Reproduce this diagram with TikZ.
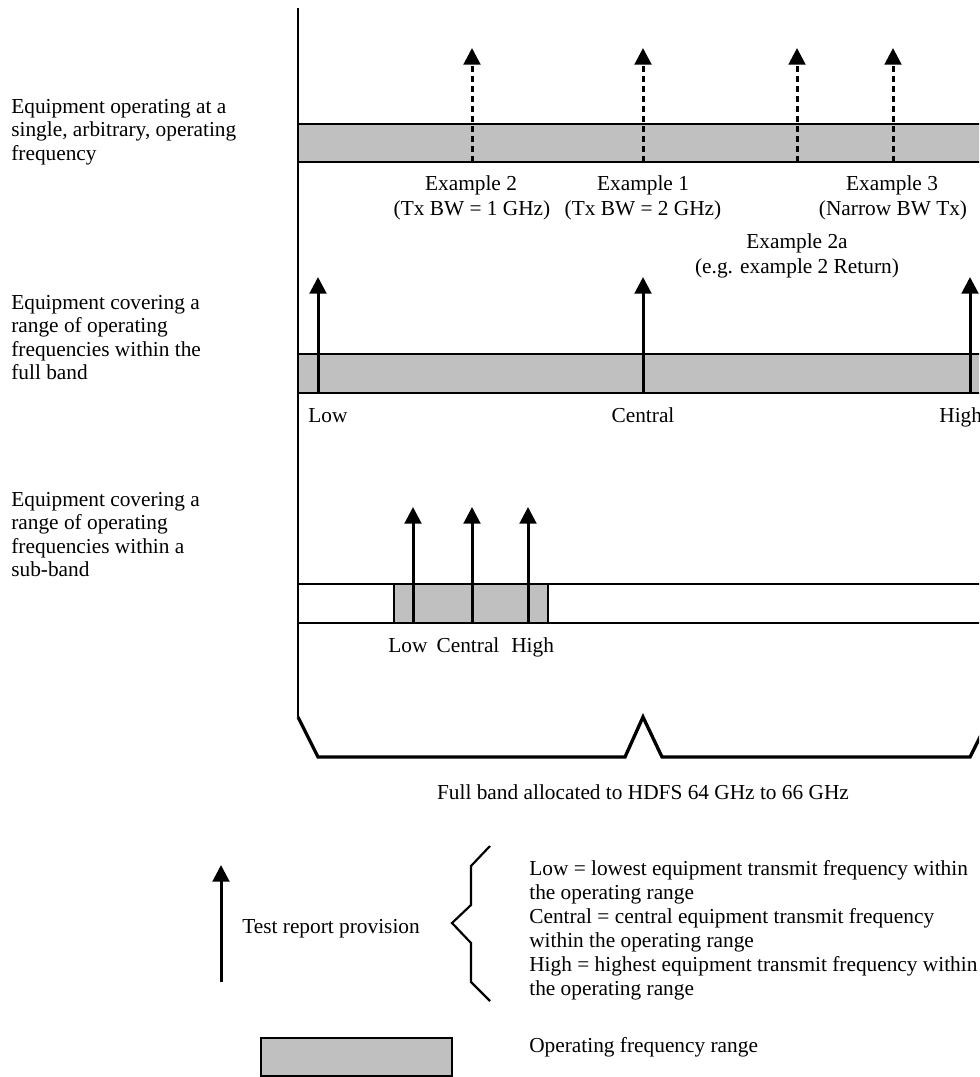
\documentclass[tikz,border=0pt]{standalone}
\usepackage{fontspec}
\setmainfont{Liberation Serif}
\usetikzlibrary{arrows.meta}
\definecolor{bandgray}{HTML}{C0C0C0}
\begin{document}
\begin{tikzpicture}[x=0.6pt,y=-0.6pt,
  every node/.style={inner sep=0pt, font=\fontsize{12.8}{14}\selectfont},
  legendtxt/.style={anchor=north west, align=left, font=\fontsize{12.8}{14.4}\selectfont},
  sidetxt/.style={anchor=north west, align=left},
  band/.style={draw, line width=1.2pt, fill=bandgray},
  strip/.style={draw, line width=1.2pt, fill=white},
  tx/.style={line width=1.8pt, -{Triangle[length=10pt,width=10pt]}},
  dtx/.style={tx, dash pattern=on 3.6pt off 2.4pt},
  lbl/.style={anchor=base},
  lblw/.style={anchor=base west},
  axis/.style={line width=1.2pt},
  bracket/.style={line width=2pt, line join=miter},
  brace/.style={line width=1.3pt}]
\clip (0,0) rectangle (979,1077);

% side descriptions
\node[sidetxt] (d1) at (11,98.9) {Equipment operating at a\\single, arbitrary, operating\\frequency};
\node[sidetxt] (d2) at (11,295.2) {Equipment covering a\\range of operating\\frequencies within the\\full band};
\node[sidetxt] (d3) at (11,491.9) {Equipment covering a\\range of operating\\frequencies within a\\sub-band};

% axis and bracket
\coordinate (axtop) at (298,8);
\coordinate (axbot) at (298,717);
\draw[axis] (axtop) -- (axbot);
\coordinate (br1) at (318,757);
\coordinate (br2) at (625,757);
\coordinate (brpk) at (643,717);
\coordinate (br3) at (662,757);
\coordinate (br4) at (970,757);
\coordinate (br5) at (990,717);
\draw[bracket] (axbot) -- (br1) -- (br2) -- (brpk) -- (br3) -- (br4) -- (br5);
\node[lbl] (fullband) at (643,799) {Full band allocated to HDFS 64 GHz to 66 GHz};

% band 1
\draw[band] (298,124) rectangle (985,162);
\foreach \x/\n in {472/a,643/b,797/c,893/d}{
  \coordinate (s1\n) at (\x,162);
  \coordinate (e1\n) at (\x,48);
  \draw[dtx] (s1\n) -- (e1\n);
}
\node[lbl] (ex2) at (471,191) {Example 2};
\node[lbl] (ex2b) at (472,215) {(Tx BW = 1 GHz)};
\node[lbl] (ex1) at (643,191) {Example 1};
\node[lbl] (ex1b) at (643,215) {(Tx BW = 2 GHz)};
\node[lbl] (ex3) at (892,191) {Example 3};
\node[lbl] (ex3b) at (893,215) {(Narrow BW Tx)};
\node[lbl] (ex2a) at (797,248) {Example 2a};
\node[lbl] (ex2ab) at (797,273) {(e.g. example 2 Return)};

% band 2
\draw[band] (298,354) rectangle (985,393);
\foreach \x/\n in {318/a,643/b,970/c}{
  \coordinate (s2\n) at (\x,393);
  \coordinate (e2\n) at (\x,277);
  \draw[tx] (s2\n) -- (e2\n);
}
\node[lblw] (lo2) at (308,422) {Low};
\node[lbl] (ce2) at (643,422) {Central};
\node[lblw] (hi2) at (939,422) {High};

% band 3
\draw[strip] (298,584) rectangle (985,623);
\draw[band] (394,584) rectangle (548,623);
\foreach \x/\n in {413/a,472/b,528/c}{
  \coordinate (s3\n) at (\x,623);
  \coordinate (e3\n) at (\x,507);
  \draw[tx] (s3\n) -- (e3\n);
}
\node[lblw] (lo3) at (388,652) {Low};
\node[lbl] (ce3) at (468,652) {Central};
\node[lblw] (hi3) at (511,652) {High};

% legend
\coordinate (lgs) at (221,982);
\coordinate (lge) at (221,865);
\draw[tx] (lgs) -- (lge);
\node[lblw] (trp) at (242,933) {Test report provision};
\coordinate (bq1) at (490,846);
\coordinate (bq2) at (471,866);
\coordinate (bq3) at (471,905);
\coordinate (bq4) at (452,923);
\coordinate (bq5) at (471,943);
\coordinate (bq6) at (471,982);
\coordinate (bq7) at (490,1001);
\draw[brace] (bq1) -- (bq2) -- (bq3) -- (bq4) -- (bq5) -- (bq6) -- (bq7);
\node[legendtxt] (defs) at (529,860.4) {Low = lowest equipment transmit frequency within\\the operating range\\Central = central equipment transmit frequency\\within the operating range\\High = highest equipment transmit frequency within\\the operating range};
\draw[band] (261,1038) rectangle (452,1076);
\node[lblw] (ofr) at (529,1052) {Operating frequency range};
\end{tikzpicture}
\end{document}
